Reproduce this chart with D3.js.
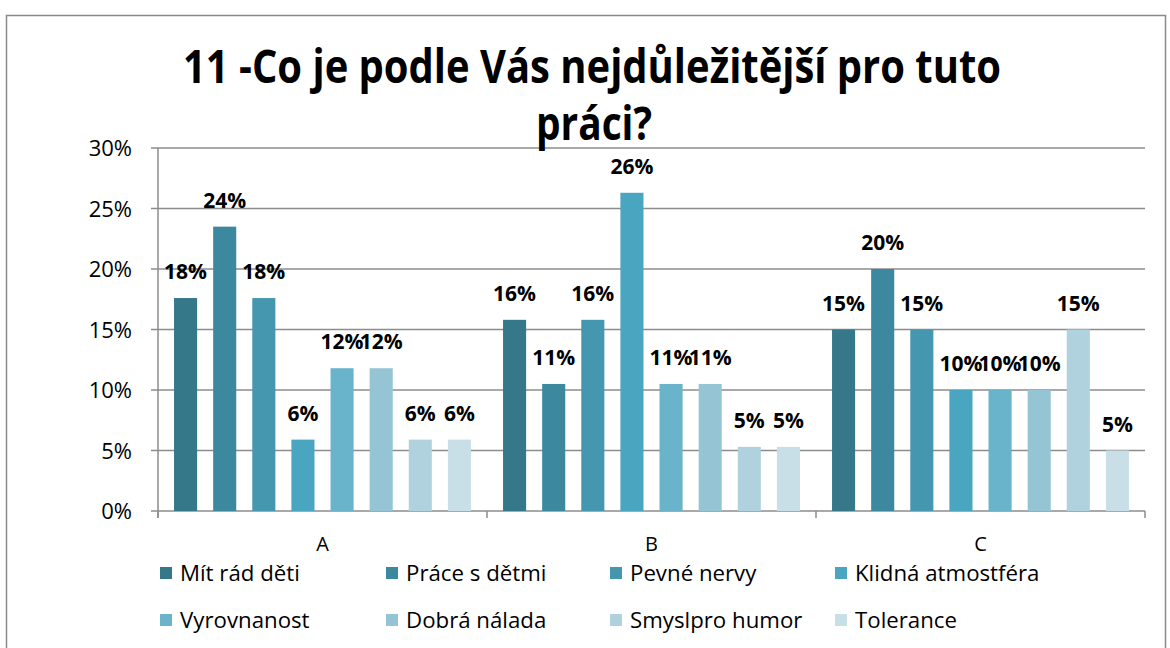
<!DOCTYPE html>
<html><head><meta charset="utf-8">
<script src="https://cdn.jsdelivr.net/npm/d3@7"></script>
<style>body{margin:0;background:#fff}svg{display:block}</style>
</head><body><svg id="c" width="1170" height="648"></svg>
<script>
const categories = ["A", "B", "C"];
const seriesNames = ["Mít rád děti", "Práce s dětmi", "Pevné nervy", "Klidná atmostféra", "Vyrovnanost", "Dobrá nálada", "Smyslpro humor", "Tolerance"];
const seriesColors = ["#35788A", "#3C889E", "#4497AF", "#4AA6C0", "#6AB4CB", "#95C4D5", "#AFD2DE", "#C8DFE7"];
// values per series, for categories A, B, C
const valMitRad = [0.176, 0.158, 0.15];
const valPrace = [0.235, 0.105, 0.20];
const valPevne = [0.176, 0.158, 0.15];
const valKlidna = [0.059, 0.263, 0.10];
const valVyrov = [0.118, 0.105, 0.10];
const valDobra = [0.118, 0.105, 0.10];
const valHumor = [0.059, 0.053, 0.15];
const valTolerance = [0.059, 0.053, 0.05];
const yTicks = [0, 0.05, 0.10, 0.15, 0.20, 0.25, 0.30];
const titleLines = ["11 -Co je podle Vás nejdůležitější pro tuto", "práci?"];

const seriesValues = [valMitRad, valPrace, valPevne, valKlidna, valVyrov, valDobra, valHumor, valTolerance];

const svg = d3.select("#c");
const font = "'Open Sans', sans-serif";

// frame
svg.append("rect").attr("x", 6.5).attr("y", 15.5).attr("width", 1159).attr("height", 660)
  .attr("fill", "none").attr("stroke", "#8a8a8a").attr("stroke-width", 1.5);

const pLeft = 158, pRight = 1145, pTop = 148, pBottom = 511;
const x0 = d3.scaleBand().domain(categories).range([pLeft, pRight]);
const x1 = d3.scaleBand().domain(seriesNames).range([0, x0.bandwidth()]).paddingInner(0.41).paddingOuter(0.41);
const y = d3.scaleLinear().domain([0, 0.30]).range([pBottom, pTop]);

// gridlines
svg.append("g").selectAll("line").data(yTicks).join("line")
  .attr("x1", pLeft - 7).attr("x2", pRight).attr("y1", d => y(d)).attr("y2", d => y(d))
  .attr("stroke", "#8c8c8c").attr("stroke-width", 1.5);

// y axis
const yAxis = svg.append("g").attr("transform", `translate(${pLeft},0)`)
  .call(d3.axisLeft(y).tickValues(yTicks).tickFormat(d3.format(".0%")).tickSize(7).tickPadding(19));
yAxis.select(".domain").attr("stroke", "#8c8c8c").attr("stroke-width", 1.5).attr("d", `M0,${pTop}V${pBottom+7}`);
yAxis.selectAll(".tick line").remove();
yAxis.selectAll("text").attr("font-family", font).attr("font-size", 22).attr("fill", "#000").attr("dy", "0.36em");

// x axis
const xAxis = svg.append("g").attr("transform", `translate(0,${pBottom})`)
  .call(d3.axisBottom(x0).tickSize(0).tickPadding(26));
xAxis.select(".domain").remove();
xAxis.selectAll("text").attr("font-family", font).attr("font-size", 20).attr("fill", "#000");
svg.append("g").selectAll("line").data([...categories.map(c => x0(c)), pRight]).join("line")
  .attr("x1", d => d).attr("x2", d => d).attr("y1", pBottom).attr("y2", pBottom + 7)
  .attr("stroke", "#8c8c8c").attr("stroke-width", 1.5);

// bars
const bars = [];
categories.forEach((c, ci) => seriesNames.forEach((s, si) => bars.push({c, s, si, v: seriesValues[si][ci]})));
svg.append("g").selectAll("rect").data(bars).join("rect")
  .attr("x", d => x0(d.c) + x1(d.s)).attr("width", x1.bandwidth())
  .attr("y", d => y(d.v)).attr("height", d => y(0) - y(d.v))
  .attr("fill", d => seriesColors[d.si]);

svg.append("g").selectAll("text").data(bars).join("text")
  .attr("x", d => x0(d.c) + x1(d.s) + x1.bandwidth() / 2)
  .attr("y", d => y(d.v) - 19)
  .attr("text-anchor", "middle").attr("font-family", font).attr("font-weight", "bold")
  .attr("font-size", 21).attr("fill", "#000")
  .text(d => d3.format(".0%")(d.v));

// title
svg.append("text").attr("x", 592).attr("y", 83).attr("text-anchor", "middle")
  .attr("font-family", font).attr("font-weight", "bold").attr("font-size", 46)
  .attr("textLength", 818).attr("lengthAdjust", "spacingAndGlyphs").text(titleLines[0]);
svg.append("text").attr("x", 594).attr("y", 140).attr("text-anchor", "middle")
  .attr("font-family", font).attr("font-weight", "bold").attr("font-size", 46)
  .attr("textLength", 116).attr("lengthAdjust", "spacingAndGlyphs").text(titleLines[1]);

// legend
const legX = [160, 386, 610, 835], legY = [573, 620];
const leg = svg.append("g").selectAll("g").data(seriesNames).join("g")
  .attr("transform", (d, i) => `translate(${legX[i % 4]},${legY[Math.floor(i / 4)]})`);
leg.append("rect").attr("x", 0).attr("y", -6).attr("width", 12).attr("height", 12)
  .attr("fill", (d, i) => seriesColors[i]);
leg.append("text").attr("transform", "translate(20,0) scale(1.06,1)").attr("dy", "0.36em")
  .attr("font-family", font).attr("font-size", 21).attr("fill", "#000").text(d => d);
</script></body></html>
